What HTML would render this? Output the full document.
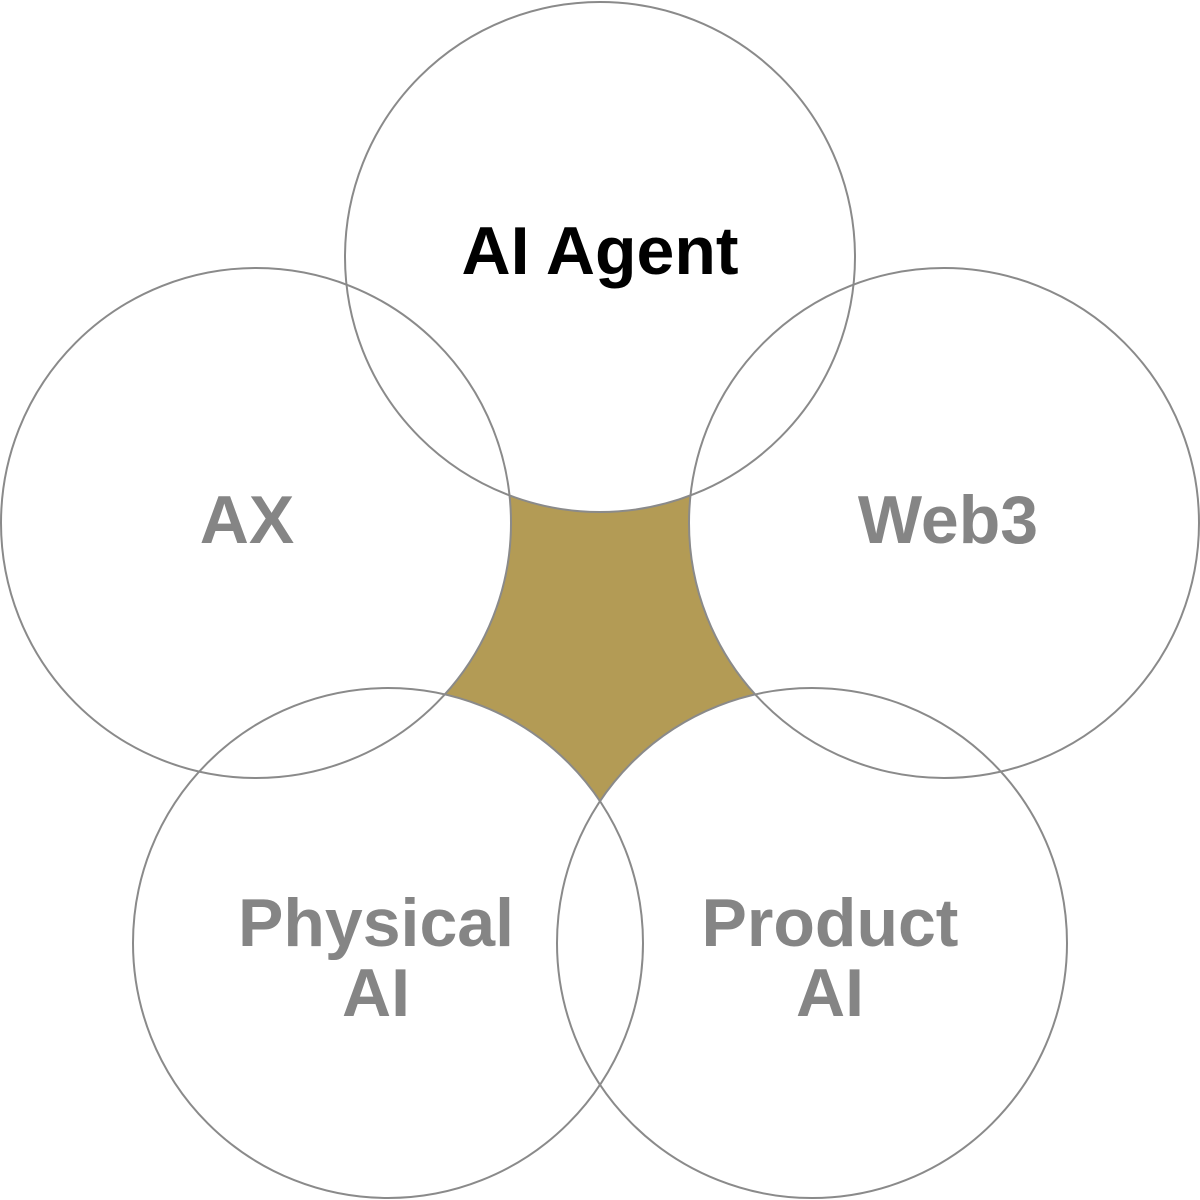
<!DOCTYPE html>
<html><head><meta charset="utf-8"><style>
html,body{margin:0;padding:0;background:#fff;}
svg{display:block;}
text{font-family:"Liberation Sans",sans-serif;font-weight:bold;text-anchor:middle;}
</style></head><body>
<svg width="1200" height="1200" viewBox="0 0 1200 1200">
<rect width="1200" height="1200" fill="#fff"/>
<polygon points="505,480 695,480 770,700 600,820 430,700" fill="#b39b55"/>
<g fill="#fff">
<circle cx="600" cy="257" r="255"/>
<circle cx="256" cy="523" r="255"/>
<circle cx="944" cy="523" r="255"/>
<circle cx="388" cy="943" r="255"/>
<circle cx="812" cy="943" r="255"/>
</g>
<g fill="none" stroke="#8a8a8a" stroke-width="2">
<circle cx="600" cy="257" r="255"/>
<circle cx="256" cy="523" r="255"/>
<circle cx="944" cy="523" r="255"/>
<circle cx="388" cy="943" r="255"/>
<circle cx="812" cy="943" r="255"/>
</g>
<text x="600" y="274" font-size="68" fill="#000">AI Agent</text>
<g fill="#858585" font-size="68">
<text x="247" y="543">AX</text>
<text x="948" y="543">Web3</text>
<text x="376" y="946">Physical</text>
<text x="376" y="1016">AI</text>
<text x="830" y="946">Product</text>
<text x="830" y="1016">AI</text>
</g>
</svg>
</body></html>
